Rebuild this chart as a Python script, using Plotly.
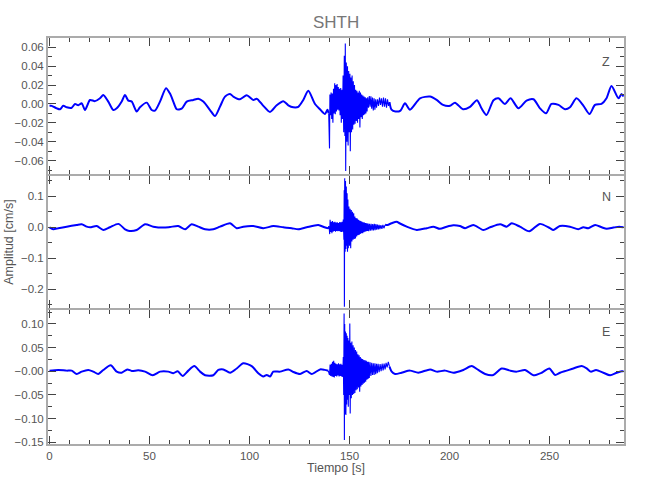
import plotly.graph_objects as go

# ---------------- data ----------------
station = "SHTH"
components = ["Z", "N", "E"]

# Z component: time [s] and amplitude [cm/s]
z_time = [0, 1.1, 3.6, 5.25, 6.9, 8.6, 11.1, 12.75, 14.4, 16.1, 17.75, 20.25, 22.75, 25.25, 26.9,
          29.4, 31.9, 33.6, 36.1, 37.75, 39.4, 41.1, 43.6, 45.25, 48.6, 51.1, 52.75, 55.25, 58.25,
          60.25, 61.9, 63.6, 66.1, 68.6, 71.9, 74.4, 76.9, 80.25, 82.75, 85.25, 87.75, 90.25, 91.9,
          95.25, 98.6, 101.9, 103.6, 106.9, 110.25, 113.6, 116.9, 119.4, 121.9, 124.4, 126.9, 129.4,
          132.75, 135.25, 137.75, 139.0, 139.6,
          140.0, 140.2, 140.5, 140.8, 141.1, 141.4, 141.7, 142.0, 142.3, 142.6, 142.9, 143.2, 143.5,
          143.8, 144.1, 144.4, 144.7, 145.0, 145.3, 145.6, 145.9, 146.2, 146.5, 146.8, 147.1, 147.4,
          147.7, 147.9, 148.1, 148.4, 148.7, 149.0, 149.3, 149.6, 149.9, 150.2, 150.4, 150.7, 151.0,
          151.3, 151.6, 151.9, 152.2, 152.5, 152.8, 153.1, 153.4, 153.7, 154.0, 154.3, 154.6, 154.9,
          155.2, 155.5, 155.8, 156.1, 156.4, 156.7, 157.0, 157.3, 157.6, 157.9, 158.2, 158.5, 158.8,
          159.1, 159.5, 159.9, 160.3, 160.7, 161.1, 161.5, 161.9, 162.3, 162.7, 163.1, 163.5, 164.0,
          164.5, 165.0, 165.5, 166.0, 166.5, 167.0, 167.5, 168.0, 168.5, 169.0, 169.5, 170.0,
          171.0, 173.0, 175.5, 177.75, 180.25, 185.25, 190.25, 193.75, 196.75, 200.25, 202.75,
          206.75, 210.25, 213.75, 216.0, 218.5, 222.0, 224.5, 227.75, 230.5, 234.5, 238.5, 242.0,
          245.25, 248.25, 251.0, 254.5, 257.75, 260.25, 263.5, 267.0, 270.0, 272.75, 276.0, 278.5,
          281.0, 284.5, 286.0, 287.0]
z_amp = [-0.002, -0.002, -0.0046, -0.0056, -0.002, -0.0035, -0.004, 0.0, -0.0014, 0.0007, -0.0064,
         0.0042, 0.003, 0.006, 0.0095, 0.0025, -0.0064, -0.0046, 0.0025, 0.0095, 0.0035, 0.0025,
         -0.008, -0.0035, 0.0014, -0.0064, -0.007, 0.0025, 0.0166, 0.011, 0.0025, -0.0056, -0.005,
         0.0025, 0.0042, 0.0056, 0.0025, -0.0064, -0.0127, -0.0028, 0.0078, 0.0106, 0.0078, 0.0049,
         0.0092, 0.0042, 0.0056, -0.002, -0.0085, -0.0014, 0.003, -0.0014, -0.0035, -0.003, 0.0042,
         0.014, 0.0, -0.0056, -0.0106, -0.006, -0.010,
         -0.047, 0.010, -0.012, 0.012, -0.016, 0.011, -0.020, 0.016, -0.010, 0.022, -0.011, 0.020,
         -0.008, 0.021, -0.006, 0.018, -0.007, 0.016, -0.012, 0.017, -0.020, 0.015, -0.016, 0.030,
         -0.030, 0.051, -0.034, 0.064, -0.071, 0.044, -0.040, 0.040, -0.044, 0.035, -0.030, 0.032,
         -0.050, 0.028, -0.030, 0.030, -0.027, 0.024, -0.022, 0.020, -0.021, 0.015, -0.018, 0.014,
         -0.020, 0.012, -0.016, 0.014, -0.025, 0.012, -0.014, 0.010, -0.016, 0.009, -0.012, 0.008,
         -0.011, 0.007, -0.010, 0.006, -0.008, 0.007, -0.004, 0.0085, -0.003, 0.008, -0.005, 0.0067,
         -0.007, 0.006, -0.006, 0.005, -0.004, 0.005, -0.002, 0.0067, -0.001, 0.006, -0.003, 0.0067,
         -0.003, 0.006, -0.004, 0.005, -0.002, 0.002,
         -0.006, -0.008, -0.007, 0.0007, -0.006, 0.006, 0.0078, 0.004, -0.001, -0.002, 0.0014,
         -0.0056, -0.003, 0.004, -0.0046, -0.0116, 0.004, 0.006, 0.0, 0.006, -0.0046, 0.0035, 0.005,
         -0.0046, -0.0099, 0.0, -0.001, -0.0056, -0.0035, 0.006, -0.002, -0.0106, -0.001, 0.0, 0.006,
         0.019, 0.006, 0.0106, 0.0078]

# N component
n_time = [0, 1.9, 4.4, 8.6, 13.6, 16.1, 18.6, 20.3, 23.6, 26.9, 30.2, 34.4, 37.8, 39.4, 43.6, 47.8,
          51.9, 56.9, 60.3, 64.4, 67.8, 71.1, 74.4, 77.8, 81.9, 85.3, 90.3, 93.6, 96.9, 101.9, 106.9,
          111.9, 116.9, 121.1, 124.4, 128.6, 134.4, 137.5, 139.4, 139.8,
          140.1, 140.3, 140.6, 140.9, 141.2, 141.5, 141.8, 142.1, 142.4, 142.7, 143.0, 143.3, 143.6,
          143.9, 144.2, 144.5, 144.8, 145.1, 145.4, 145.7, 146.0, 146.3, 146.6, 146.9, 147.2, 147.35,
          147.45, 147.6, 147.8, 148.0, 148.2, 148.4, 148.6, 148.8, 149.0, 149.2, 149.4, 149.7, 150.0,
          150.3, 150.6, 150.9, 151.2, 151.5, 151.8, 152.1, 152.4, 152.7, 153.0, 153.3, 153.6, 153.9,
          154.2, 154.5, 154.8, 155.1, 155.4, 155.7, 156.0, 156.3, 156.6, 156.9, 157.2, 157.5, 157.8,
          158.1, 158.4, 158.7, 159.0, 159.3, 159.6, 160.0, 160.4, 160.8, 161.2, 161.6, 162.0, 162.4,
          162.8, 163.2, 163.6, 164.0, 164.4, 164.8, 165.2, 165.7, 166.2, 166.7, 167.2, 167.8,
          169.0, 171.0, 173.6, 175.0, 178.6, 183.6, 188.6, 191.9, 195.2, 198.6, 201.9, 205.2, 207.8,
          211.9, 216.9, 220.3, 225.3, 228.6, 231.1, 235.2, 239.9, 245.2, 250.2, 251.9, 255.2, 260.2,
          264.4, 266.9, 269.4, 272.8, 276.1, 278.6, 281.9, 284.9, 287.0]
n_amp = [0.0, -0.006, -0.003, 0.002, 0.0075, 0.0097, 0.002, 0.0, 0.004, -0.0086, 0.0, 0.011, -0.0065,
         -0.011, -0.0086, 0.0097, 0.002, -0.001, 0.001, 0.004, -0.0065, 0.0097, 0.002, -0.0065,
         -0.0065, 0.002, 0.013, -0.003, 0.002, 0.004, -0.003, 0.004, 0.0, -0.003, -0.0065, 0.0,
         0.0075, 0.0, -0.003, 0.003,
         -0.022, 0.024, -0.015, 0.018, -0.019, 0.020, -0.014, 0.016, -0.012, 0.018, -0.014, 0.015,
         -0.012, 0.016, -0.013, 0.014, -0.012, 0.017, -0.014, 0.016, -0.015, 0.018, -0.014, 0.025,
         -0.040, 0.120, -0.257, 0.159, -0.079, 0.150, -0.070, 0.132, -0.060, 0.110, -0.079, 0.090,
         -0.068, 0.067, -0.060, 0.060, -0.068, 0.056, -0.046, 0.050, -0.040, 0.045, -0.038, 0.035,
         -0.036, 0.030, -0.030, 0.028, -0.026, 0.024, -0.025, 0.022, -0.022, 0.020, -0.019, 0.018,
         -0.019, 0.016, -0.016, 0.015, -0.014, 0.014, -0.013, 0.013, -0.012, 0.012, -0.013, 0.011,
         -0.011, 0.011, -0.010, 0.010, -0.010, 0.011, -0.009, 0.010, -0.008, 0.009, -0.007, 0.008,
         -0.006, 0.007, -0.005, 0.008, -0.003, 0.008,
         0.0075, 0.013, 0.018, 0.013, 0.002, -0.0086, -0.003, 0.002, -0.005, 0.002, 0.0065, 0.004,
         -0.003, 0.0075, -0.0086, 0.0, 0.0097, 0.002, 0.013, 0.002, -0.013, 0.011, -0.003, -0.0086,
         0.004, 0.002, -0.0065, 0.0, -0.003, 0.0075, 0.0, -0.005, -0.001, 0.002, 0.0]

# E component
e_time = [0, 4.4, 8.6, 11.1, 13.6, 16.1, 19.4, 21.9, 24.4, 26.9, 30.6, 33.6, 36.1, 38.9, 41.1, 44.4,
          47.8, 51.6, 55.3, 59.4, 61.9, 64.1, 66.6, 69.4, 72.4, 75.3, 77.8, 81.9, 84.4, 86.9, 90.3,
          93.6, 96.9, 101.1, 104.4, 106.9, 108.6, 110.3, 111.9, 115.3, 119.4, 121.9, 125.3, 128.6,
          131.1, 135.3, 137.5, 139.4,
          140.0, 140.3, 140.6, 140.9, 141.2, 141.5, 141.8, 142.1, 142.4, 142.7, 143.0, 143.3, 143.6,
          143.9, 144.2, 144.5, 144.8, 145.1, 145.4, 145.7, 146.0, 146.3, 146.6, 146.9, 147.1, 147.3,
          147.45, 147.6, 147.8, 148.0, 148.2, 148.4, 148.6, 148.8, 149.0, 149.2, 149.4, 149.7, 149.95,
          150.15, 150.35, 150.6, 150.9, 151.2, 151.5, 151.8, 152.1, 152.4, 152.7, 153.0, 153.3, 153.6,
          153.9, 154.2, 154.5, 154.8, 155.1, 155.4, 155.7, 156.0, 156.3, 156.6, 156.9, 157.2, 157.5,
          157.8, 158.1, 158.4, 158.7, 159.0, 159.3, 159.6, 159.9, 160.3, 160.7, 161.1, 161.5, 161.9,
          162.3, 162.7, 163.1, 163.5, 163.9, 164.3, 164.8, 165.3, 165.8, 166.3, 166.8, 167.3, 167.8,
          168.3, 168.8, 169.4, 170.0,
          171.0, 172.8, 176.0, 180.3, 184.4, 190.3, 193.6, 197.8, 201.9, 206.9, 211.1, 214.4, 217.8,
          221.9, 226.1, 230.3, 233.6, 237.8, 241.9, 246.1, 249.9, 252.8, 255.3, 258.6, 261.9, 266.1,
          268.6, 270.6, 273.3, 276.9, 280.3, 283.6, 286.1, 287.0]
e_amp = [0.0014, 0.0028, 0.0014, 0.0014, -0.0056, -0.0007, 0.0028, -0.0007, -0.0056, 0.0028, 0.0127,
         -0.0007, -0.003, 0.004, 0.0007, 0.002, -0.0007, -0.0084, -0.0007, -0.0007, -0.004, 0.0,
         -0.0098, 0.0014, 0.011, -0.0007, -0.0084, -0.0084, 0.0028, 0.004, -0.003, 0.006, 0.017,
         0.011, -0.004, -0.011, -0.0077, -0.011, -0.0007, -0.0007, 0.004, -0.0014, -0.0056, 0.0007,
         -0.0056, 0.004, 0.003, 0.001,
         -0.008, 0.014, -0.010, 0.016, -0.011, 0.020, -0.012, 0.022, -0.013, 0.018, -0.010, 0.016,
         -0.011, 0.015, -0.009, 0.017, -0.011, 0.015, -0.010, 0.016, -0.011, 0.014, -0.012, 0.030,
         -0.050, 0.122, -0.145, 0.100, -0.090, 0.084, -0.092, 0.080, -0.070, 0.075, -0.060, 0.070,
         -0.075, 0.065, -0.050, 0.101, -0.089, 0.060, -0.057, 0.063, -0.050, 0.055, -0.048, 0.050,
         -0.046, 0.045, -0.040, 0.042, -0.038, 0.036, -0.034, 0.034, -0.043, 0.030, -0.032, 0.027,
         -0.029, 0.026, -0.026, 0.024, -0.024, 0.023, -0.022, 0.022, -0.018, 0.020, -0.016, 0.020,
         -0.014, 0.019, -0.010, 0.018, -0.008, 0.017, -0.008, 0.017, -0.006, 0.016, -0.004, 0.016,
         -0.002, 0.015, 0.000, 0.016, 0.002, 0.016, 0.004, 0.018, 0.008, 0.020, 0.010,
         0.0, -0.0056, -0.003, 0.0014, -0.003, 0.004, -0.0007, 0.0014, -0.003, 0.0028, 0.011, 0.0028,
         -0.0056, -0.0077, 0.006, 0.0014, -0.0007, 0.0028, -0.0084, -0.003, 0.006, -0.0077, -0.003,
         0.0014, 0.006, 0.011, 0.006, -0.0007, 0.0028, -0.003, -0.0084, -0.003, 0.0, 0.0]

# start / end of the strong-motion part of each record [s]
burst_windows = [(139.6, 170.0), (139.8, 167.8), (139.4, 170.0)]

# tick values / labels
x_ticks = [0, 50, 100, 150, 200, 250]
z_ticks = [0.06, 0.04, 0.02, 0.0, -0.02, -0.04, -0.06]
z_labels = ["0.06", "0.04", "0.02", "0.00", "\u22120.02", "\u22120.04", "\u22120.06"]
n_ticks = [0.1, 0.0, -0.1, -0.2]
n_labels = ["0.1", "0.0", "\u22120.1", "\u22120.2"]
e_ticks = [0.10, 0.05, 0.0, -0.05, -0.10, -0.15]
e_labels = ["0.10", "0.05", "\u22120.00", "\u22120.05", "\u22120.10", "\u22120.15"]

x_title = "Tiempo [s]"
y_title = "Amplitud [cm/s]"

# ---------------- figure ----------------
FONT = "Liberation Sans Narrow, Liberation Sans, Arial, sans-serif"
TXT = "#555555"
FRAME = "#ababab"
TICKC = "#444444"
BLUE = "#0000ff"

fig = go.Figure()
series = [(z_time, z_amp), (n_time, n_amp), (e_time, e_amp)]
for i, (t, a) in enumerate(series):
    xr = "x" if i == 0 else f"x{i+1}"
    yr = "y" if i == 0 else f"y{i+1}"
    b0, b1 = burst_windows[i]
    pre = [(tt, aa) for tt, aa in zip(t, a) if tt <= b0]
    mid = [(tt, aa) for tt, aa in zip(t, a) if b0 <= tt <= b1]
    post = [(tt, aa) for tt, aa in zip(t, a) if tt >= b1]
    for seg, shape, w in ((pre, "spline", 2.0), (post, "spline", 2.0), (mid, "linear", 1.1)):
        fig.add_trace(go.Scatter(x=[p[0] for p in seg], y=[p[1] for p in seg], mode="lines",
                                 line=dict(color=BLUE, width=w, shape=shape,
                                           smoothing=0.7 if shape == "spline" else None),
                                 xaxis=xr, yaxis=yr, showlegend=False, hoverinfo="skip"))

H = 406.0
g = 1.0 / H
domains = [[0.6626 + g, 1.0], [0.3325 + g, 0.6626 - g], [0.0, 0.3325 - g]]
yranges = [[-0.0741, 0.0698], [-0.2612, 0.166], [-0.1534, 0.1293]]
ytick_sets = [(z_ticks, z_labels, 0.01), (n_ticks, n_labels, 0.05), (e_ticks, e_labels, 0.025)]
xrange_ = [-0.75, 287.25]

common_axis = dict(showline=True, linecolor=FRAME, linewidth=2, mirror="ticks",
                   ticks="inside", tickcolor=TICKC, tickwidth=1, ticklen=8,
                   showgrid=False, zeroline=False, automargin=False,
                   tickfont=dict(family=FONT, size=11.5, color=TXT))

layout = dict(width=650, height=500, paper_bgcolor="white", plot_bgcolor="white",
              margin=dict(l=48, r=26, t=38, b=56), showlegend=False)

for i in range(3):
    xa = "xaxis" if i == 0 else f"xaxis{i+1}"
    ya = "yaxis" if i == 0 else f"yaxis{i+1}"
    yref = "y" if i == 0 else f"y{i+1}"
    xref = "x" if i == 0 else f"x{i+1}"
    layout[xa] = dict(common_axis, range=xrange_, domain=[0, 1], anchor=yref,
                      tickmode="array", tickvals=x_ticks,
                      showticklabels=(i == 2),
                      minor=dict(dtick=10, tick0=0, ticks="inside", ticklen=4,
                                 tickcolor=TICKC, tickwidth=1))
    if i > 0:
        layout[xa]["matches"] = "x"
    tv, tt, mdt = ytick_sets[i]
    layout[ya] = dict(common_axis, range=yranges[i], domain=domains[i], anchor=xref,
                      tickmode="array", tickvals=tv, ticktext=tt,
                      minor=dict(dtick=mdt, tick0=0, ticks="inside", ticklen=4,
                                 tickcolor=TICKC, tickwidth=1))

fig.update_layout(**layout)

ann = []
ann.append(dict(text=station, x=0.5, y=1.039, xref="paper", yref="paper",
                xanchor="center", yanchor="middle", showarrow=False,
                font=dict(family=FONT, size=17, color="#777777")))
ann.append(dict(text=x_title, x=0.5, y=-0.059, xref="paper", yref="paper",
                xanchor="center", yanchor="middle", showarrow=False,
                font=dict(family=FONT, size=12.5, color=TXT)))
ann.append(dict(text=y_title, x=-0.068, y=0.4976, xref="paper", yref="paper",
                xanchor="center", yanchor="middle", showarrow=False, textangle=-90,
                font=dict(family=FONT, size=12.5, color=TXT)))
label_y = [0.941, 0.6096, 0.277]
for comp, yy in zip(components, label_y):
    ann.append(dict(text=comp, x=0.969, y=yy, xref="paper", yref="paper",
                    xanchor="center", yanchor="middle", showarrow=False,
                    font=dict(family=FONT, size=12.5, color=TXT)))
fig.update_layout(annotations=ann)

# remove the browser's default 8 px page margin so the figure sits at the window origin
fig.write_html("out.html", config={"displayModeBar": False},
               post_script="document.body.style.margin='0px';")
